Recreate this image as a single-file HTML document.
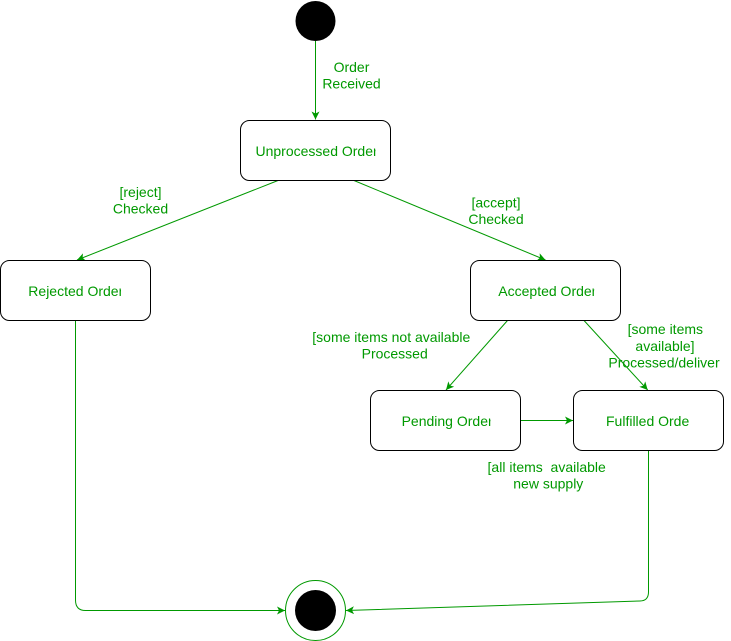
<!DOCTYPE html>
<html>
<head>
<meta charset="utf-8">
<style>
  html, body { margin: 0; padding: 0; background: #fff; }
  body { width: 731px; height: 641px; overflow: hidden; }
  svg { display: block; }
  text { font-family: "Liberation Sans", Arial, sans-serif; font-size: 14px; fill: #009900; }
</style>
</head>
<body>
<svg width="731" height="641" viewBox="0 0 731 641" xmlns="http://www.w3.org/2000/svg">
  <defs>
    <marker id="arr" viewBox="0 0 8 8" refX="8" refY="4" markerWidth="8" markerHeight="8" markerUnits="userSpaceOnUse" orient="auto">
      <path d="M0,0 L8,4 L0,8 L2,4 Z" fill="#009900"/>
    </marker>
    <clipPath id="c1"><rect x="240" y="120" width="135.5" height="60"/></clipPath>
    <clipPath id="c2"><rect x="0" y="260" width="121" height="60"/></clipPath>
    <clipPath id="c3"><rect x="470" y="260" width="124.2" height="60"/></clipPath>
    <clipPath id="c4"><rect x="370" y="390" width="120.5" height="60"/></clipPath>
    <clipPath id="c5"><rect x="573" y="390" width="116" height="60"/></clipPath>
    <clipPath id="c6"><rect x="300" y="325" width="170" height="25"/></clipPath>
  </defs>

  <!-- initial state -->
  <circle cx="315.5" cy="21" r="20" fill="#000"/>

  <!-- edges -->
  <g stroke="#009900" stroke-width="1" fill="none">
    <line x1="315.5" y1="41" x2="315.5" y2="119.5" marker-end="url(#arr)"/>
    <line x1="278" y1="180.5" x2="77" y2="260" marker-end="url(#arr)"/>
    <line x1="354" y1="180.5" x2="545.5" y2="260" marker-end="url(#arr)"/>
    <line x1="507.5" y1="320.5" x2="446" y2="390" marker-end="url(#arr)"/>
    <line x1="584" y1="320.5" x2="647.7" y2="390" marker-end="url(#arr)"/>
    <line x1="520.5" y1="420.5" x2="573" y2="420.5" marker-end="url(#arr)"/>
    <path d="M75.5,320.5 L75.5,600 Q75.5,610.5 85.5,610.5 L285,610.5" marker-end="url(#arr)"/>
    <path d="M648.5,450.5 L648.5,592 Q648.5,600.8 640,601 L346,610.5" marker-end="url(#arr)"/>
  </g>

  <!-- state boxes -->
  <g stroke="#000" stroke-width="1" fill="#fff">
    <rect x="240.5" y="120.5" width="150" height="60" rx="9" ry="9"/>
    <rect x="0.5" y="260.5" width="150" height="60" rx="9" ry="9"/>
    <rect x="470.5" y="260.5" width="150" height="60" rx="9" ry="9"/>
    <rect x="370.5" y="390.5" width="150" height="60" rx="9" ry="9"/>
    <rect x="573.5" y="390.5" width="150" height="60" rx="9" ry="9"/>
  </g>

  <!-- node labels (clipped like the original) -->
  <text x="255.5" y="156" clip-path="url(#c1)">Unprocessed Order</text>
  <text x="28.3" y="296" clip-path="url(#c2)">Rejected Order</text>
  <text x="498.3" y="296" clip-path="url(#c3)">Accepted Order</text>
  <text x="401.6" y="426" clip-path="url(#c4)">Pending Order</text>
  <text x="606" y="426" clip-path="url(#c5)">Fulfilled Order</text>

  <!-- final state -->
  <circle cx="315.5" cy="610.5" r="30" fill="#fff" stroke="#009900" stroke-width="1"/>
  <circle cx="315.5" cy="610.5" r="20.5" fill="#000"/>

  <!-- edge labels -->
  <g text-anchor="middle">
    <text x="351.5" y="72">Order</text>
    <text x="351.5" y="88.5">Received</text>

    <text x="140.5" y="197">[reject]</text>
    <text x="140.5" y="213.5">Checked</text>

    <text x="496" y="207.5">[accept]</text>
    <text x="496" y="224">Checked</text>

    <text x="394.7" y="358.5">Processed</text>

    <text x="665.3" y="334">[some items</text>
    <text x="665" y="351">available]</text>
    <text x="664" y="367.5">Processed/deliver</text>

    <text x="546.7" y="472">[all items&#160; available</text>
    <text x="548.3" y="488.5">new supply</text>
  </g>
  <text x="312.3" y="342" clip-path="url(#c6)">[some items not available]</text>
</svg>
</body>
</html>
